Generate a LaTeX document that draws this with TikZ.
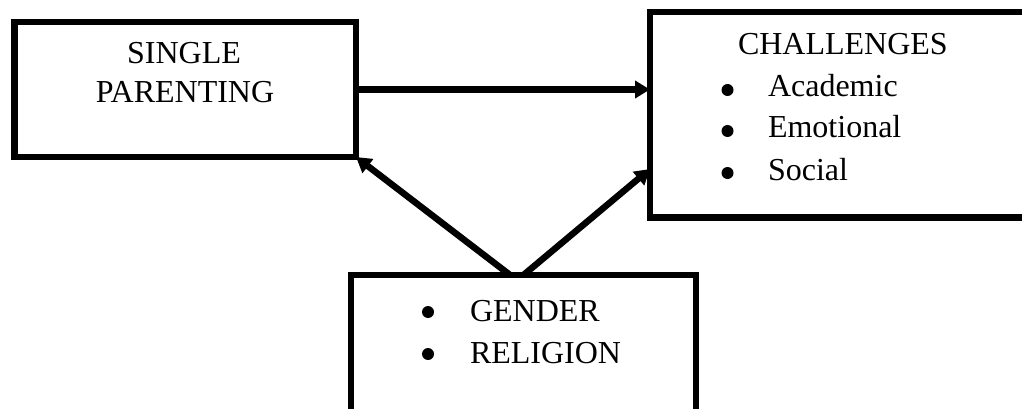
\documentclass[tikz,border=0pt]{standalone}
\usepackage{fontspec}
\setmainfont{Liberation Serif}
\usetikzlibrary{arrows.meta,calc}
\begin{document}
\begin{tikzpicture}[x=1pt,y=1pt,
  box/.style={draw, line width=6.5pt, inner sep=0pt, outer sep=0pt, minimum width=#1},
  txt/.style={inner sep=0pt, outer sep=0pt, anchor=base west, font=\fontsize{32}{38}\selectfont},
  bul/.style={circle, fill, inner sep=0pt, outer sep=0pt, minimum size=12pt},
  conn/.style={line width=6.5pt, -{Triangle[length=15pt,width=17pt]}}]
\useasboundingbox (0,0) rectangle (1022,-409);
\clip (0,0) rectangle (1022,-409);
\node[box=341.5pt, minimum height=135pt] (sp) at (185.25,-89.5) {};
\node[box=390pt, minimum height=205.5pt] (ch) at (845,-114.75) {};
\node[box=345pt, minimum height=165pt] (gr) at (523.5,-357.5) {};
% texts
\node[txt, anchor=base] (t1) at (184,-64) {SINGLE};
\node[txt, anchor=base] (t2) at (185,-103) {PARENTING};
\node[txt] (t3) at (738,-55) {CHALLENGES};
\node[bul] (b1) at (727.5,-90) {};
\node[txt] (t4) at (768,-97) {Academic};
\node[bul] (b2) at (727.5,-131) {};
\node[txt] (t5) at (768,-138) {Emotional};
\node[bul] (b3) at (727.5,-173) {};
\node[txt] (t6) at (768,-180) {Social};
\node[bul] (b4) at (428,-312) {};
\node[txt] (t7) at (470,-321) {GENDER};
\node[bul] (b5) at (428,-354) {};
\node[txt] (t8) at (470,-363) {RELIGION};
% connectors
\coordinate (gl) at ($(gr.north west)!0.461!(gr.north east)$);
\coordinate (cl) at ($(ch.north west)!0.764!(ch.south west)$);
\draw[conn] (sp.east) -- (sp.east -| ch.west);
\draw[conn] (gl) -- (sp.south east);
\draw[conn] (gr.north) -- (cl);
\end{tikzpicture}
\end{document}
